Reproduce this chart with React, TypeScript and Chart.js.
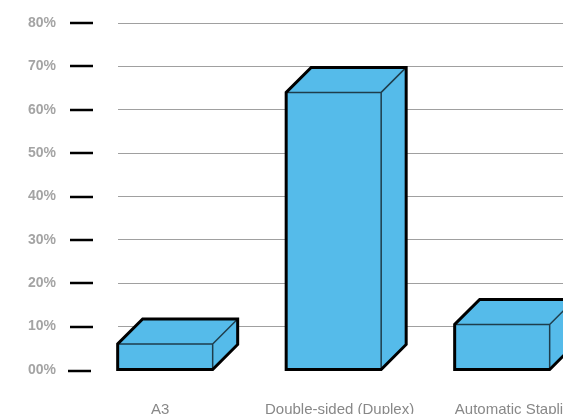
import { useEffect, useRef } from 'react';
import { Chart, registerables } from 'chart.js';

Chart.register(...registerables);

const categories = ['A3', 'Double-sided (Duplex)', 'Automatic Stapling'];
const values = [6, 64, 10.5];
const yTickValues = [0, 10, 20, 30, 40, 50, 60, 70, 80];
const yTickLabels = ['00%', '10%', '20%', '30%', '40%', '50%', '60%', '70%', '80%'];

// small per-label horizontal nudges (in category units) for the x-axis text
const LABEL_NUDGE = [-0.03, 0.035, 0.09];

const FILL = '#55bbea';
const DEPTH = 25;

const box3d = {
  id: 'box3d',
  afterDatasetsDraw(chart: any) {
    const ctx = chart.ctx;
    const meta = chart.getDatasetMeta(0);
    meta.data.forEach((el: any) => {
      const { x, y, base, width } = el.getProps(['x', 'y', 'base', 'width'], true);
      const L = x - width / 2;
      const R = x + width / 2;
      const T = y;
      const B = base;
      const d = DEPTH;
      ctx.save();
      ctx.fillStyle = FILL;
      ctx.fillRect(L, T, R - L, B - T);
      ctx.beginPath();
      ctx.moveTo(L, T);
      ctx.lineTo(L + d, T - d);
      ctx.lineTo(R + d, T - d);
      ctx.lineTo(R, T);
      ctx.closePath();
      ctx.fill();
      ctx.beginPath();
      ctx.moveTo(R, T);
      ctx.lineTo(R + d, T - d);
      ctx.lineTo(R + d, B - d);
      ctx.lineTo(R, B);
      ctx.closePath();
      ctx.fill();
      ctx.strokeStyle = '#1e3d4c';
      ctx.lineWidth = 1.5;
      ctx.beginPath();
      ctx.moveTo(L, T);
      ctx.lineTo(R, T);
      ctx.lineTo(R, B);
      ctx.moveTo(R, T);
      ctx.lineTo(R + d, T - d);
      ctx.stroke();
      ctx.strokeStyle = '#000';
      ctx.lineWidth = 3;
      ctx.lineJoin = 'miter';
      ctx.beginPath();
      ctx.moveTo(L, B);
      ctx.lineTo(L, T);
      ctx.lineTo(L + d, T - d);
      ctx.lineTo(R + d, T - d);
      ctx.lineTo(R + d, B - d);
      ctx.lineTo(R, B);
      ctx.closePath();
      ctx.stroke();
      ctx.restore();
    });
  },
};

const tickDashes = {
  id: 'tickDashes',
  afterDraw(chart: any) {
    const ctx = chart.ctx;
    const ys = chart.scales.y;
    ctx.save();
    ctx.strokeStyle = '#000';
    ctx.lineWidth = 2.5;
    yTickValues.forEach((v) => {
      const py = Math.round(ys.getPixelForValue(v)) + (v === 0 ? 1 : 0);
      ctx.beginPath();
      ctx.moveTo(v === 0 ? 68 : 70, py);
      ctx.lineTo(v === 0 ? 91 : 93, py);
      ctx.stroke();
    });
    ctx.restore();
  },
};

export default function App() {
  const ref = useRef<HTMLCanvasElement>(null);
  useEffect(() => {
    if (!ref.current) return;
    const chart = new Chart(ref.current, {
      type: 'bar',
      data: {
        datasets: [
          {
            data: values.map((v, i) => ({ x: i, y: v })),
            backgroundColor: 'rgba(0,0,0,0)',
            borderWidth: 0,
            barThickness: 95,
          },
        ],
      },
      options: {
        responsive: false,
        animation: false,
        devicePixelRatio: 1,
        layout: { padding: { top: 23, left: 0, right: 0, bottom: 0 } },
        plugins: { legend: { display: false }, tooltip: { enabled: false } },
        scales: {
          x: {
            type: 'linear',
            offset: false,
            min: -0.28,
            max: 2.818,
            grid: { display: false, drawTicks: false },
            border: { display: false },
            afterBuildTicks: (scale: any) => {
              scale.ticks = categories.map((_, i) => ({ value: i + LABEL_NUDGE[i] }));
            },
            afterFit: (scale: any) => {
              scale.height = 44;
              scale.paddingLeft = 0;
              scale.paddingRight = 0;
              scale.paddingTop = 0;
              scale.paddingBottom = 0;
            },
            ticks: {
              autoSkip: false,
              maxRotation: 0,
              padding: 31,
              color: '#888',
              font: { family: 'Liberation Sans, Arial, sans-serif', size: 15 },
              callback: (_v: any, i: number) => categories[i] ?? '',
            },
          },
          y: {
            min: 0,
            max: 80,
            afterBuildTicks: (scale: any) => {
              scale.ticks = yTickValues.map((v) => ({ value: v }));
            },
            afterFit: (scale: any) => {
              scale.width = 118;
              scale.paddingLeft = 0;
              scale.paddingRight = 0;
              scale.paddingTop = 0;
              scale.paddingBottom = 0;
            },
            grid: {
              drawTicks: false,
              color: (c: any) => (c.tick && c.tick.value === 0 ? 'rgba(0,0,0,0)' : '#a0a0a0'),
              lineWidth: 1,
            },
            border: { display: false },
            ticks: {
              padding: 62,
              color: '#a4a4a4',
              font: { family: 'Liberation Sans, Arial, sans-serif', size: 14, weight: 'bold' },
              callback: (v: any) => yTickLabels[yTickValues.indexOf(v as number)] ?? '',
            },
          },
        },
      },
      plugins: [box3d, tickDashes],
    });
    return () => chart.destroy();
  }, []);
  return (
    <div
      style={{
        position: 'fixed',
        left: 0,
        top: 0,
        width: 563,
        height: 414,
        overflow: 'hidden',
        background: '#fff',
      }}
    >
      <canvas ref={ref} width={640} height={414} style={{ width: 640, height: 414, display: 'block' }} />
    </div>
  );
}
